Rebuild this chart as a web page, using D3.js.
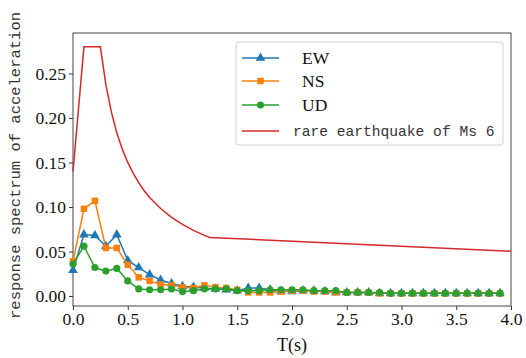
<!DOCTYPE html>
<html>
<head>
<meta charset="utf-8">
<script src="https://cdn.jsdelivr.net/npm/d3@7"></script>
<style>
  html, body { margin: 0; padding: 0; background: #fff; }
  svg { display: block; }
</style>
</head>
<body>
<svg id="chart" width="526" height="358"></svg>
<script>
// Periods (s) of the recorded response spectra
const periods = [0.0, 0.1, 0.2, 0.3, 0.4, 0.5, 0.6, 0.7, 0.8, 0.9,
                 1.0, 1.1, 1.2, 1.3, 1.4, 1.5, 1.6, 1.7, 1.8, 1.9,
                 2.0, 2.1, 2.2, 2.3, 2.4, 2.5, 2.6, 2.7, 2.8, 2.9,
                 3.0, 3.1, 3.2, 3.3, 3.4, 3.5, 3.6, 3.7, 3.8, 3.9];

const ewValues = [0.029, 0.069, 0.068, 0.056, 0.069, 0.040, 0.032, 0.024, 0.018, 0.014,
                  0.011, 0.010, 0.009, 0.008, 0.007, 0.006, 0.009, 0.009, 0.007, 0.005,
                  0.005, 0.006, 0.006, 0.005, 0.004, 0.004, 0.004, 0.004, 0.003, 0.003,
                  0.003, 0.003, 0.003, 0.003, 0.003, 0.003, 0.003, 0.003, 0.003, 0.003];

const nsValues = [0.039, 0.098, 0.107, 0.054, 0.054, 0.035, 0.021, 0.017, 0.013, 0.012,
                  0.010, 0.009, 0.012, 0.010, 0.009, 0.007, 0.004, 0.004, 0.004, 0.005,
                  0.006, 0.006, 0.005, 0.005, 0.004, 0.004, 0.004, 0.004, 0.003, 0.003,
                  0.003, 0.003, 0.003, 0.003, 0.003, 0.003, 0.003, 0.003, 0.003, 0.003];

const udValues = [0.036, 0.056, 0.032, 0.028, 0.031, 0.017, 0.008, 0.007, 0.007, 0.008,
                  0.005, 0.006, 0.008, 0.008, 0.008, 0.006, 0.006, 0.006, 0.007, 0.007,
                  0.007, 0.007, 0.006, 0.006, 0.006, 0.004, 0.004, 0.004, 0.004, 0.003,
                  0.003, 0.003, 0.003, 0.003, 0.003, 0.003, 0.003, 0.003, 0.003, 0.003];

// Design spectrum for a rare earthquake of Ms 6
const designPeriods = [0.0, 0.1, 0.25, 0.3, 0.35, 0.4, 0.45, 0.5, 0.55, 0.6, 0.65, 0.7,
                       0.8, 0.9, 1.0, 1.1, 1.2, 1.25, 4.0];
const designValues = [0.140, 0.280, 0.280, 0.2376, 0.2068, 0.1834, 0.1650, 0.1501, 0.1379, 0.1273,
                      0.1183, 0.1108, 0.0983, 0.0884, 0.0804, 0.0738, 0.0682, 0.0658, 0.0503];

const xTicks = [0.0, 0.5, 1.0, 1.5, 2.0, 2.5, 3.0, 3.5, 4.0];
const yTicks = [0.00, 0.05, 0.10, 0.15, 0.20, 0.25];

const seriesNames = ["EW", "NS", "UD", "rare earthquake of Ms 6"];
const seriesColors = ["#1f77b4", "#ff7f0e", "#2ca02c", "#d62728"];

const svg = d3.select("#chart");
const margin = { left: 73, right: 15, top: 33, bottom: 52 };
const width = 526 - margin.left - margin.right;
const height = 358 - margin.top - margin.bottom;

const x = d3.scaleLinear().domain([0, 4]).range([0, width]);
const y = d3.scaleLinear().domain([-0.0112, 0.2955]).range([height, 0]);

const g = svg.append("g").attr("transform", `translate(${margin.left},${margin.top})`);

const serif = "'Liberation Serif', 'Times New Roman', serif";
const mono = "'Liberation Mono', 'DejaVu Sans Mono', monospace";

// Axes
const xAxis = g.append("g")
  .attr("transform", `translate(0,${height})`)
  .call(d3.axisBottom(x).tickValues(xTicks).tickFormat(d3.format(".1f")).tickSize(4).tickPadding(3).tickSizeOuter(0));
const yAxis = g.append("g")
  .call(d3.axisLeft(y).tickValues(yTicks).tickFormat(d3.format(".2f")).tickSize(4).tickPadding(3).tickSizeOuter(0));

[xAxis, yAxis].forEach(a => {
  a.select(".domain").remove();
  a.selectAll(".tick line").attr("stroke", "#333").attr("stroke-width", 1);
  a.selectAll(".tick text").attr("fill", "#111").style("font-family", serif).style("font-size", "17.5px");
});

// Frame
g.append("rect")
  .attr("x", 0).attr("y", 0).attr("width", width).attr("height", height)
  .attr("fill", "none").attr("stroke", "#444").attr("stroke-width", 1);

// Design spectrum line
const designData = designPeriods.map((t, i) => [t, designValues[i]]);
g.append("path")
  .datum(designData)
  .attr("fill", "none").attr("stroke", seriesColors[3]).attr("stroke-width", 1.5)
  .attr("d", d3.line().x(d => x(d[0])).y(d => y(d[1])));

// Measured spectra
const symbols = [d3.symbolTriangle, d3.symbolSquare, d3.symbolCircle];
const symbolSizes = [40, 42, 40];
const measured = [ewValues, nsValues, udValues];

measured.forEach((vals, si) => {
  const data = periods.map((t, i) => [t, vals[i]]);
  const sg = g.append("g");
  sg.append("path")
    .datum(data)
    .attr("fill", "none").attr("stroke", seriesColors[si]).attr("stroke-width", 1.5)
    .attr("d", d3.line().x(d => x(d[0])).y(d => y(d[1])));
  sg.selectAll("path.marker")
    .data(data)
    .join("path")
    .attr("class", "marker")
    .attr("transform", d => `translate(${x(d[0])},${y(d[1])})`)
    .attr("d", d3.symbol().type(symbols[si]).size(symbolSizes[si]))
    .attr("fill", seriesColors[si]);
});

// Axis titles
svg.append("text")
  .attr("x", margin.left + width / 2).attr("y", 351)
  .attr("text-anchor", "middle")
  .style("font-family", serif).style("font-size", "18px").attr("fill", "#111")
  .text("T(s)");

svg.append("text")
  .attr("transform", `translate(20,${margin.top + height / 2 - 4}) rotate(-90)`)
  .attr("text-anchor", "middle")
  .style("font-family", mono).style("font-size", "15.5px").attr("fill", "#333")
  .text("response spectrum of acceleration");

// Legend
const legend = svg.append("g").attr("transform", "translate(236,42)");
legend.append("rect")
  .attr("x", 0).attr("y", 0).attr("width", 267).attr("height", 103).attr("rx", 3)
  .attr("fill", "#fff").attr("fill-opacity", 0.8).attr("stroke", "#d0d0d0");

const rowY = [16, 39, 63, 89];
seriesNames.forEach((name, i) => {
  const row = legend.append("g").attr("transform", `translate(0,${rowY[i]})`);
  row.append("line")
    .attr("x1", 6).attr("x2", 43).attr("y1", 0).attr("y2", 0)
    .attr("stroke", seriesColors[i]).attr("stroke-width", 1.5);
  if (i < 3) {
    row.append("path")
      .attr("transform", "translate(24.5,0)")
      .attr("d", d3.symbol().type(symbols[i]).size(symbolSizes[i]))
      .attr("fill", seriesColors[i]);
  }
  row.append("text")
    .attr("x", i < 3 ? 66 : 57).attr("y", 0).attr("dy", "0.35em")
    .style("font-family", i < 3 ? serif : mono)
    .style("font-size", i < 3 ? "17.5px" : "14.6px")
    .attr("fill", i < 3 ? "#111" : "#333")
    .text(name);
});
</script>
</body>
</html>
